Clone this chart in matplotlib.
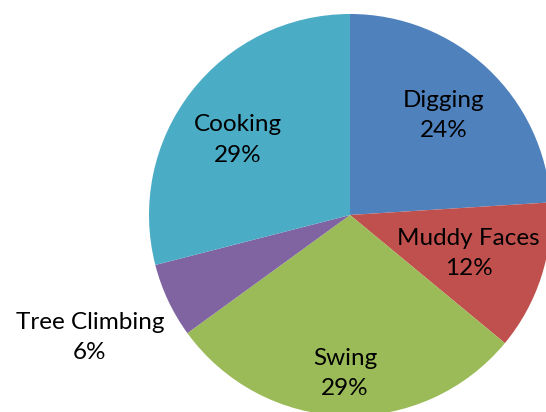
import numpy as np
import matplotlib
matplotlib.use("Agg")
import matplotlib.pyplot as plt

# slices, clockwise from 12 o'clock
labels = ["Digging", "Muddy Faces", "Swing", "Tree Climbing", "Cooking"]
shares = [24, 12, 29, 6, 29]
colors = ["#4F81BD", "#C0504D", "#9BBB59", "#8064A2", "#4BACC6"]
# how far from the centre each label sits (fraction of radius)
label_r = [0.68, 0.62, 0.79, 1.43, 0.67]

fig = plt.figure(figsize=(5.46, 4.12), dpi=100)
W, H = 546, 412
cx, cy, r = 350, 215, 201
ax = fig.add_axes([(cx - r) / W, (H - cy - r) / H, 2 * r / W, 2 * r / H])

wedges, _ = ax.pie(shares, colors=colors, startangle=90, counterclock=False,
                   radius=1, wedgeprops=dict(linewidth=0))

for w, name, pct, d in zip(wedges, labels, shares, label_r):
    mid = (w.theta1 + w.theta2) / 2
    if name == "Cooking":
        mid += 4  # excel nudges this one a bit
    mid = np.deg2rad(mid)
    x, y = d * np.cos(mid), d * np.sin(mid)
    ax.text(x, y, f"{name}\n{pct}%", ha="center", va="center",
            fontsize=17.5, family="Lato", linespacing=1.55, color="#000000")

ax.set_xlim(-1, 1)
ax.set_ylim(-1, 1)
ax.set_aspect("equal")
ax.axis("off")

fig.savefig("out.png", dpi=100)
